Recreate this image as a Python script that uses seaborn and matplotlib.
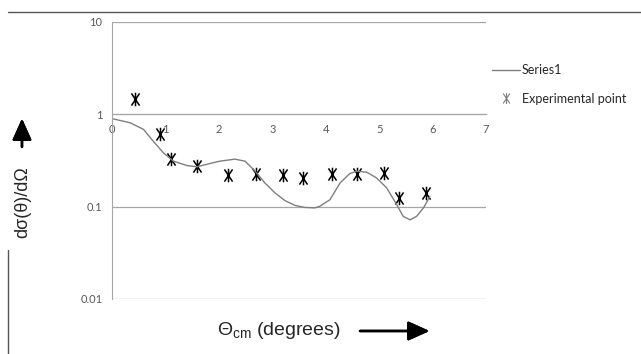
import numpy as np
import pandas as pd
import matplotlib
matplotlib.use("Agg")
import matplotlib.pyplot as plt
from matplotlib.path import Path
from matplotlib.lines import Line2D
import seaborn as sns

# -----------------------------
# data
# -----------------------------
curve_x = [0.0, 0.34, 0.59, 0.77, 0.96, 1.15, 1.40, 1.59, 1.83, 2.02, 2.30, 2.49,
           2.68, 2.86, 3.05, 3.24, 3.43, 3.61, 3.80, 3.89, 4.08, 4.27, 4.45, 4.58,
           4.77, 4.95, 5.14, 5.33, 5.45, 5.58, 5.70, 5.83, 5.95]
curve_y = [0.898, 0.81, 0.687, 0.513, 0.384, 0.311, 0.279, 0.270, 0.293, 0.311, 0.327, 0.311,
           0.242, 0.181, 0.141, 0.116, 0.103, 0.098, 0.097, 0.101, 0.119, 0.181, 0.228, 0.242,
           0.236, 0.205, 0.160, 0.105, 0.0785, 0.072, 0.0785, 0.097, 0.129]

exp_x = [0.43, 0.90, 1.10, 1.60, 2.18, 2.69, 3.21, 3.58, 4.11, 4.59, 5.09, 5.38, 5.88]
exp_y = [1.45, 0.61, 0.33, 0.279, 0.219, 0.223, 0.219, 0.205, 0.223, 0.228, 0.232, 0.124, 0.141]

x_ticks = [0, 1, 2, 3, 4, 5, 6, 7]
y_ticks = [0.01, 0.1, 1, 10]
y_ticklabels = ["0.01", "0.1", "1", "10"]

curve_df = pd.DataFrame({"theta": curve_x, "sigma": curve_y})
exp_df = pd.DataFrame({"theta": exp_x, "sigma": exp_y})

# excel-style star: vertical bar plus a narrow X
star = Path(
    [(0, -1), (0, 1), (-0.6, -0.9), (0.6, 0.9), (-0.6, 0.9), (0.6, -0.9)],
    [Path.MOVETO, Path.LINETO, Path.MOVETO, Path.LINETO, Path.MOVETO, Path.LINETO],
)

sns.set_style("white")
plt.rcParams["font.family"] = ["Lato", "DejaVu Sans"]
plt.rcParams["mathtext.fontset"] = "custom"
plt.rcParams["mathtext.rm"] = "Liberation Sans"
plt.rcParams["mathtext.it"] = "Liberation Sans:italic"

fig = plt.figure(figsize=(6.41, 3.54), dpi=100)
ax = fig.add_axes([0.1747, 0.1554, 0.5835, 0.7825])

grid_c = "#a6a6a6"
text_c = "#595959"

sns.lineplot(data=curve_df, x="theta", y="sigma", ax=ax, sort=False,
             color="#7f7f7f", linewidth=1.0, label="Series1")
sns.scatterplot(data=exp_df, x="theta", y="sigma", ax=ax, marker=star,
                s=95, color="black", edgecolor="black", linewidth=1.1,
                label="Experimental point")

ax.set_yscale("log")
ax.set_xlim(0, 7)
ax.set_ylim(0.01, 10)
ax.set_xticks(x_ticks)
ax.set_xticklabels([str(t) for t in x_ticks])
ax.set_yticks(y_ticks)
ax.set_yticklabels(y_ticklabels)
ax.minorticks_off()

for v in y_ticks:
    ax.axhline(v, color=grid_c, linewidth=0.9, zorder=0)

for s in ["top", "right"]:
    ax.spines[s].set_visible(False)
ax.spines["left"].set_color(grid_c)
ax.spines["bottom"].set_color(grid_c)
ax.spines["bottom"].set_position(("data", 1))
ax.tick_params(axis="both", direction="out", length=4, width=0.9,
               color=grid_c, labelcolor=text_c, labelsize=8, pad=3)
ax.set_xlabel("")
ax.set_ylabel("")

handles = [
    Line2D([], [], color="#7f7f7f", linewidth=1.0),
    Line2D([], [], linestyle="", marker=star, markersize=8, markeredgewidth=0.8,
           color="#7f7f7f"),
]
ax.legend(handles, ["Series1", "Experimental point"], loc="upper left",
          bbox_to_anchor=(0.75, 0.85), bbox_transform=fig.transFigure,
          frameon=False, fontsize=9, handlelength=2.2, handletextpad=0.2,
          labelspacing=1.3, labelcolor="#262626")

# axis titles drawn as free text with arrows, like the original
fig.text(0.036, 0.43, "dσ(θ)/dΩ", rotation=90, ha="center", va="center",
         fontsize=13, family=["Liberation Sans", "DejaVu Sans"])
fig.text(0.435, 0.065, r"$\mathit{\Theta}_{\mathrm{cm}}$ (degrees)", ha="center",
         va="center", fontsize=14, family=["Liberation Sans", "DejaVu Sans"])

arrow = dict(arrowstyle="-|>,head_length=1.0,head_width=0.45", color="black",
             lw=1.8, mutation_scale=13, shrinkA=0, shrinkB=0)
fig.add_artist(plt.annotate("", xy=(0.0343, 0.665), xytext=(0.0343, 0.585),
                            xycoords="figure fraction", arrowprops=arrow))
fig.add_artist(plt.annotate("", xy=(0.670, 0.065), xytext=(0.5616, 0.065),
                            xycoords="figure fraction", arrowprops=arrow))

# page border lines visible in the source scan
fig.add_artist(Line2D([0.0125, 1.0], [0.966, 0.966], color="#555555", linewidth=1.0))
fig.add_artist(Line2D([0.0125, 0.0125], [0.0, 0.294], color="#555555", linewidth=1.0))

fig.savefig("out.png", dpi=100)
